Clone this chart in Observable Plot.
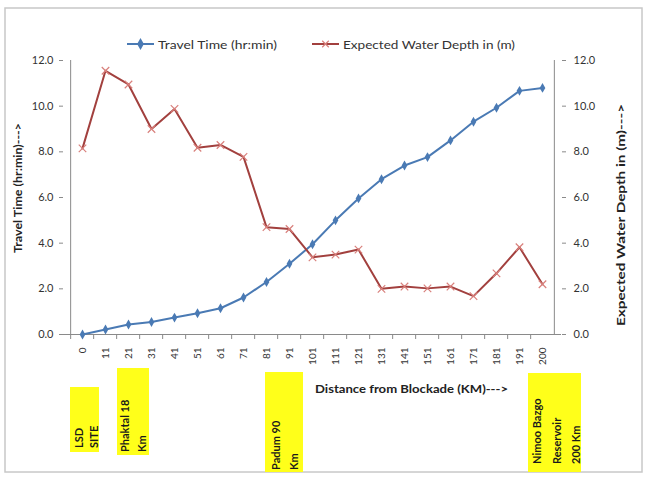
<!DOCTYPE html>
<html>
<head>
<meta charset="utf-8">
<script src="https://cdn.jsdelivr.net/npm/d3@7"></script>
<script src="https://cdn.jsdelivr.net/npm/@observablehq/plot@0.6"></script>
<style>
  html, body { margin: 0; padding: 0; background: #fff; }
  #wrap { position: relative; width: 650px; height: 478px; overflow: hidden; background: #fff; font-family: Lato, "Liberation Sans", sans-serif; }
  #wrap > svg, #wrap > figure { position: absolute; left: 0; top: 0; margin: 0; }
</style>
</head>
<body>
<div id="wrap"></div>
<script>
// ---- data ----
const categories = ["0","11","21","31","41","51","61","71","81","91","101","111","121","131","141","151","161","171","181","191","200"];
const travelTime = [0.0,0.22,0.44,0.55,0.74,0.93,1.15,1.62,2.3,3.1,3.95,5.0,5.96,6.8,7.4,7.77,8.5,9.32,9.93,10.67,10.8];
const waterDepth = [8.15,11.55,10.95,9.0,9.88,8.18,8.3,7.78,4.7,4.62,3.38,3.5,3.72,2.0,2.1,2.02,2.1,1.68,2.68,3.82,2.2];
const yTicks = [0,2,4,6,8,10,12];
const seriesNames = ["Travel Time (hr:min)", "Expected Water Depth in  (m)"];
const axisTitles = ["Travel Time (hr:min)--->", "Expected Water Depth in  (m)--->", "Distance from Blockade (KM)--->"];
const annotations = [
  {km: "0",   lines: ["LSD", "SITE"]},
  {km: "21",  lines: ["Phaktal 18", "Km"]},
  {km: "91",  lines: ["Padum 90", "Km"]},
  {km: "200", lines: ["Nimoo Bazgo", "Reservoir", "200 Km"]}
];

const blue = "#4a7ab4";
const red = "#a2403e";
const redMark = "#d9807c";
const axisGray = "#8a8a8a";

const data = categories.map((c, i) => ({km: c, t: travelTime[i], d: waterDepth[i]}));

const W = 650, H = 478, mL = 63, mR = 89, mT = 60, mB = 144;
const step = (W - mL - mR) / categories.length;

const chart = Plot.plot({
  width: W, height: H,
  marginLeft: mL, marginRight: mR, marginTop: mT, marginBottom: mB,
  style: {fontFamily: "Lato, 'Liberation Sans', sans-serif", fontSize: "11px", background: "transparent", color: "#333", overflow: "visible"},
  x: {type: "point", domain: categories, padding: 0.5},
  y: {domain: [0, 12]},
  marks: [
    Plot.ruleX([categories[0]], {dx: -step / 2, stroke: axisGray}),
    Plot.ruleX([categories[categories.length - 1]], {dx: step / 2, stroke: axisGray}),
    Plot.ruleY([0], {stroke: axisGray}),
    Plot.axisY({anchor: "left", ticks: yTicks, tickFormat: d => d.toFixed(1), tickSize: 4, tickPadding: 6, label: null, stroke: axisGray, fill: "#333", fontSize: 11}),
    Plot.axisY({anchor: "right", ticks: yTicks, tickFormat: d => d.toFixed(1), tickSize: 4, tickPadding: 8, label: null, stroke: axisGray, fill: "#333", fontSize: 11}),
    Plot.axisX({tickSize: 5, tickFormat: () => "", dx: -step / 2, label: null, stroke: axisGray}),
    Plot.axisX({tickSize: 0, tickPadding: 13, tickRotate: -90, label: null, fill: "#333", fontSize: 10}),
    Plot.line(data, {x: "km", y: "t", stroke: blue, strokeWidth: 2}),
    Plot.dot(data, {x: "km", y: "t", symbol: "diamond", fill: blue, r: 3}),
    Plot.line(data, {x: "km", y: "d", stroke: red, strokeWidth: 2}),
    Plot.dot(data, {x: "km", y: "d", symbol: "times", stroke: redMark, strokeWidth: 1.2, r: 3.5})
  ]
});

const wrap = document.getElementById("wrap");
const xs = chart.scale("x");

// ---- overlay: frame, legend, titles, annotation boxes ----
const ns = "http://www.w3.org/2000/svg";
const bg = d3.create("svg").attr("width", W).attr("height", H);
bg.append("rect").attr("x", 5).attr("y", 8).attr("width", 637).attr("height", 464)
  .attr("fill", "#fff").attr("stroke", "#c8c8c8").attr("stroke-width", 1.5);
wrap.appendChild(bg.node());
wrap.appendChild(chart);

const ov = d3.create("svg").attr("width", W).attr("height", H)
  .style("font-family", "Lato, 'Liberation Sans', sans-serif");

// legend
const legendItems = [
  {x: 127, color: blue, symbol: d3.symbolDiamond, fillSym: true, tx: 158, len: 119, name: seriesNames[0]},
  {x: 312, color: red, symbol: d3.symbolTimes, fillSym: false, tx: 343, len: 172, name: seriesNames[1]}
];
legendItems.forEach(it => {
  ov.append("line").attr("x1", it.x).attr("x2", it.x + 27).attr("y1", 44).attr("y2", 44)
    .attr("stroke", it.color).attr("stroke-width", 2);
  ov.append("path").attr("transform", `translate(${it.x + 13.5},44)`)
    .attr("d", d3.symbol(it.symbol, it.fillSym ? 40 : 30)())
    .attr("fill", it.fillSym ? it.color : "none").attr("stroke", it.fillSym ? "none" : redMark).attr("stroke-width", 1.2);
  ov.append("text").attr("x", it.tx).attr("y", 44).attr("dominant-baseline", "central")
    .attr("font-size", 12).attr("fill", "#333").attr("textLength", it.len).attr("lengthAdjust", "spacingAndGlyphs")
    .text(it.name);
});

// axis titles
ov.append("text").attr("transform", "translate(17,188) rotate(-90)").attr("text-anchor", "middle")
  .attr("dominant-baseline", "central").attr("font-size", 11).attr("font-weight", "bold").attr("fill", "#222")
  .attr("textLength", 130).attr("lengthAdjust", "spacingAndGlyphs").text(axisTitles[0]);
ov.append("text").attr("transform", "translate(620,215) rotate(-90)").attr("text-anchor", "middle")
  .attr("dominant-baseline", "central").attr("font-size", 11).attr("font-weight", "bold").attr("fill", "#222")
  .attr("textLength", 222).attr("lengthAdjust", "spacingAndGlyphs").text(axisTitles[1]);
ov.append("text").attr("x", 315).attr("y", 388).attr("dominant-baseline", "central")
  .attr("font-size", 11).attr("font-weight", "bold").attr("fill", "#222")
  .attr("textLength", 193).attr("lengthAdjust", "spacingAndGlyphs").text(axisTitles[2]);

// annotation boxes (anchored to their category on the x scale)
const boxSpec = {
  "0":   {dx: -12, w: 29, top: 387, bottom: 452, base: 448, cols: [8, 23]},
  "21":  {dx: -11, w: 32, top: 368, bottom: 455, base: 452, cols: [7, 24]},
  "91":  {dx: -24, w: 38, top: 372, bottom: 472, base: 470, cols: [10, 28]},
  "200": {dx: -14, w: 53, top: 373, bottom: 472, base: 464, cols: [8, 28, 47]}
};
annotations.forEach(a => {
  const s = boxSpec[a.km];
  const x0 = xs.apply(a.km) + s.dx;
  ov.append("rect").attr("x", x0).attr("y", s.top).attr("width", s.w).attr("height", s.bottom - s.top).attr("fill", "#ffff1a");
  a.lines.forEach((ln, i) => {
    ov.append("text").attr("transform", `translate(${x0 + s.cols[i]},${s.base}) rotate(-90)`)
      .attr("dominant-baseline", "central").attr("font-size", 11).attr("font-weight", "bold").attr("fill", "#1a1a1a")
      .text(ln);
  });
});
wrap.appendChild(ov.node());
</script>
</body>
</html>
